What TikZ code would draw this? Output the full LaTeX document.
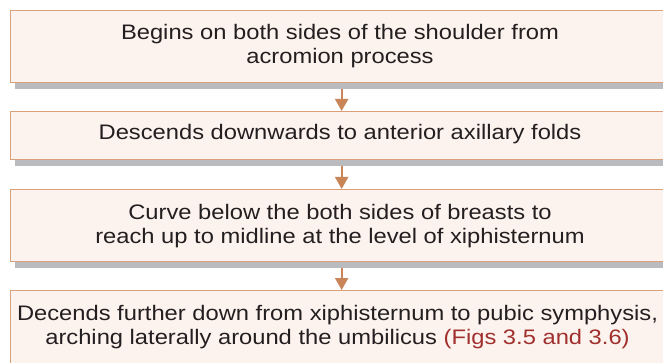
\documentclass[tikz,border=0pt]{standalone}
\usepackage{fontspec}
\setmainfont[FakeStretch=1.13]{Liberation Sans}
\usetikzlibrary{arrows.meta,shadows}
\definecolor{boxborder}{HTML}{D9A07A}
\definecolor{boxfill}{HTML}{FDF3EE}
\definecolor{arrowc}{HTML}{C98458}
\definecolor{shadowc}{HTML}{B9BBBF}
\definecolor{txtc}{HTML}{231F20}
\definecolor{figred}{HTML}{A0302E}
\begin{document}
\begin{tikzpicture}[x=1pt,y=-1pt,
  box/.style={draw=boxborder, line width=1.3pt, fill=boxfill, inner sep=0pt,
    minimum width=663pt, anchor=north west,
    drop shadow={shadow xshift=5pt, shadow yshift=-6pt, fill=shadowc, opacity=1}},
  txt/.style={inner sep=0pt, align=center, text=txtc, font=\fontsize{21}{24}\selectfont},
  arr/.style={draw=arrowc, line width=2pt, -{Triangle[length=12pt,width=13pt]}}]
\useasboundingbox (0,0) rectangle (663,363);
\fill[white] (0,0) rectangle (663,363);
\node[box, minimum height=72pt] (b1) at (9.5,10) {};
\node[box, minimum height=48pt] (b2) at (9.5,111) {};
\node[box, minimum height=72pt] (b3) at (9.5,189) {};
\node[box, minimum height=80pt] (b4) at (9.5,290) {};
\node[txt] (t1) at (340,46.5) {Begins on both sides of the shoulder from\\acromion process};
\node[txt] (t2) at (340,134) {Descends downwards to anterior axillary folds};
\node[txt] (t3) at (340,226.5) {Curve below the both sides of breasts to\\reach up to midline at the level of xiphisternum};
\node[txt] (t4) at (337.5,327.5) {Decends further down from xiphisternum to pubic symphysis,\\arching laterally around the umbilicus \textcolor{figred}{(Figs 3.5 and 3.6)}};
\draw[arr] ([yshift=-6pt]b1.south) -- (b2.north);
\draw[arr] ([yshift=-6pt]b2.south) -- (b3.north);
\draw[arr] ([yshift=-6pt]b3.south) -- (b4.north);
\end{tikzpicture}
\end{document}
